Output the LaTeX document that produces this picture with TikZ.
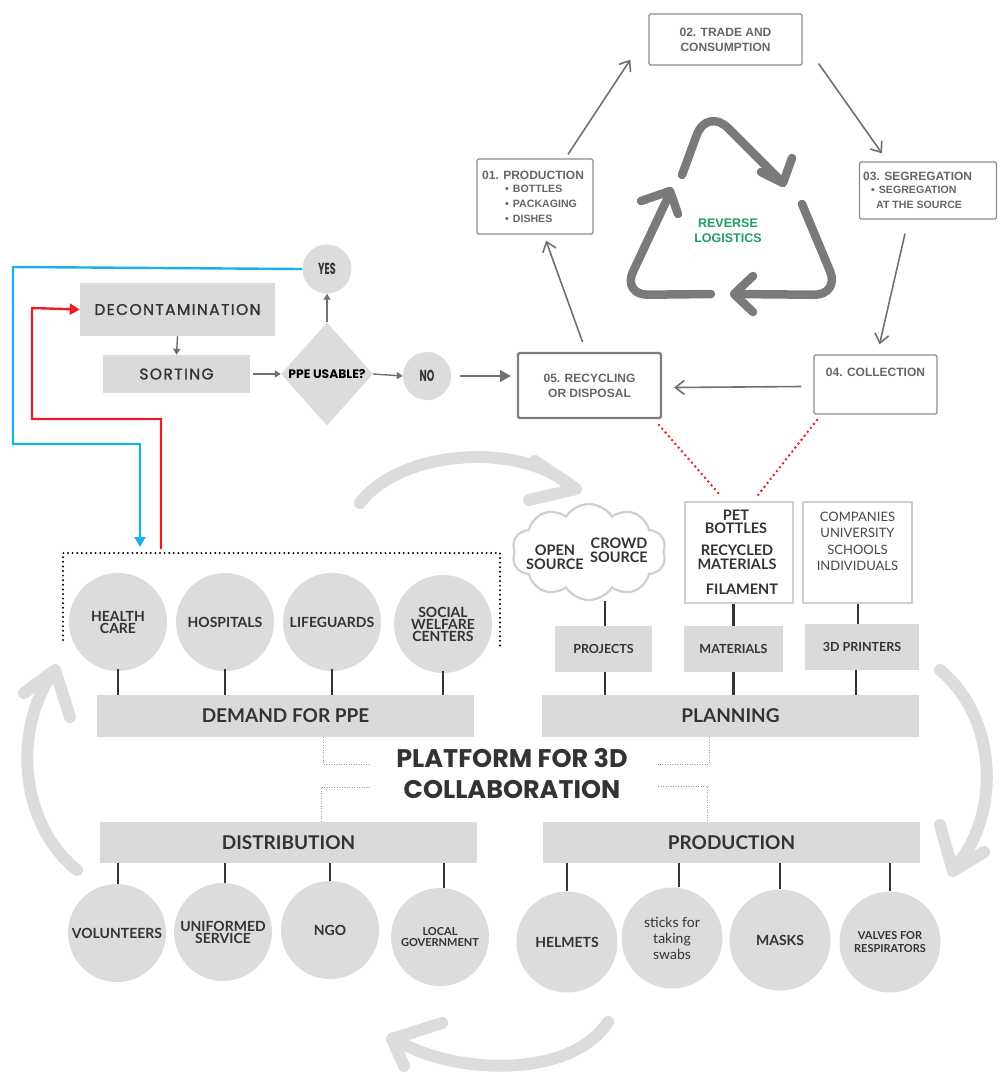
\documentclass[tikz,border=0pt]{standalone}
\usepackage{fontspec}
\setmainfont{Lato}
\newfontfamily\ari{Liberation Sans}
\newfontfamily\pop{Poppins}
\newfontfamily\popsp{Poppins}[LetterSpace=9,FakeBold=1.3]
\usetikzlibrary{shapes.geometric,shapes.symbols,arrows.meta}
\definecolor{cgray}{HTML}{DCDCDC}
\definecolor{bgray}{HTML}{DADADA}
\definecolor{tdark}{HTML}{333333}
\definecolor{agray}{HTML}{707070}
\definecolor{rgray}{HTML}{7A7A7A}
\definecolor{lgray}{HTML}{DCDCDC}
\definecolor{cyctext}{HTML}{666666}
\definecolor{boxline}{HTML}{8C8C8C}
\definecolor{cyanl}{HTML}{1CB1E6}
\definecolor{redl}{HTML}{EC1C24}
\definecolor{greenl}{HTML}{1E9E5E}
\definecolor{outl}{HTML}{CFCFCF}
\definecolor{dotg}{HTML}{9A9A9A}
\newcommand\smf{\fontsize{10.6}{15.5}\selectfont}
\begin{document}
\begin{tikzpicture}[x=1pt,y=-1pt,
  cyc/.style={draw=boxline,line width=1.3,rounded corners=1.5,inner sep=0,align=center,text=cyctext,font=\ari\bfseries\fontsize{12}{15}\selectfont},
  cyctxt/.style={inner sep=0,align=left,text=cyctext,font=\ari\bfseries\fontsize{12}{15}\selectfont},
  circ/.style={circle,fill=cgray,inner sep=0,minimum size=#1,align=center,text=tdark,font=\bfseries\fontsize{14}{14}\selectfont},
  circ/.default=98,
  bar/.style={fill=bgray,inner sep=0,minimum height=42,minimum width=377,text=tdark,font=\bfseries\fontsize{19}{20}\selectfont},
  sbox/.style={fill=bgray,inner sep=0,text=tdark,font=\bfseries\fontsize{12.5}{14}\selectfont},
  obox/.style={draw=outl,line width=2,fill=white,inner sep=0,align=center,text=tdark},
  otext/.style={text=tdark,font=\bfseries\fontsize{14.5}{13.5}\selectfont,align=center},
  flow/.style={fill=bgray,inner sep=0,text=tdark,font=\popsp\fontsize{15.5}{17}\selectfont},
  farr/.style={draw=agray,line width=1.4,-{Triangle[length=6,width=7]}},
  carr/.style={draw=agray,line width=1.6,-{Straight Barb[length=9,width=14]}},
  recy/.style={draw=rgray,line width=8.5,line cap=round,line join=round},
  big/.style={draw=lgray,line width=12,line cap=round,line join=round},
  vline/.style={draw=tdark,line width=2.6},
  gdot/.style={draw=dotg,line width=1,dash pattern=on 1pt off 1.5pt},
]
\useasboundingbox (0,0) rectangle (1000,1072);

% ---------------- reverse logistics cycle ----------------
\node[cyc,minimum width=153,minimum height=51] (trade) at (725.5,39.5) {02. TRADE AND\\CONSUMPTION};
\node[cyc,minimum width=116,minimum height=75] (prod1) at (535,196.5) {};
\node[cyctxt,anchor=west] (prod1t) at (482,196.5)
 {01. PRODUCTION\\[-2pt]\smf\hspace*{23pt}•\hspace{4pt}BOTTLES\\\smf\hspace*{23pt}•\hspace{4pt}PACKAGING\\\smf\hspace*{23pt}•\hspace{4pt}DISHES};
\node[cyc,minimum width=137,minimum height=57] (seg) at (928,190.5) {};
\node[cyctxt,anchor=west] (segt) at (863,190.5)
 {03. SEGREGATION\\[-2pt]\smf\hspace*{8pt}•\hspace{4pt}SEGREGATION\\\smf\hspace*{13pt}AT THE SOURCE};
\node[cyc,minimum width=123,minimum height=59] (coll) at (875.5,384.5) {04. COLLECTION\\[10pt]\mbox{}};
\node[cyc,draw=agray!90,line width=2.2,minimum width=143,minimum height=65] (recyc) at (589.5,385.5) {05. RECYCLING\\OR DISPOSAL};

\path (prod1.north) ++(33,-4) coordinate (p1a);
\path (trade.south west) ++(-18,-6) coordinate (p1b);
\draw[carr] (p1a) -- (p1b);
\path (trade.south east) ++(16,-2) coordinate (t1);
\path (seg.north) ++(-46,-8) coordinate (t2);
\draw[carr] (t1) -- (t2);
\path (seg.south) ++(-23,14) coordinate (s1);
\path (coll.north) ++(4,-10) coordinate (s2);
\draw[carr] (s1) -- (s2);
\path (coll.west) ++(-12,2) coordinate (c1);
\path (recyc.east) ++(12,2) coordinate (c2);
\draw[carr] (c1) -- (c2);
\path (recyc.north) ++(-7,-10) coordinate (r1);
\path (prod1.south) ++(11,6) coordinate (r2);
\draw[carr] (r1) -- (r2);

% recycling symbol
\draw[recy,rounded corners=30] (682,175) -- (707,107) -- (781,181);
\draw[recy] (761,172) -- (783,183) -- (792,158);
\draw[recy,rounded corners=26] (802,204) -- (840,295) -- (736,294);
\draw[recy] (753,276) -- (734,294) -- (753,312);
\draw[recy,rounded corners=26] (711,294) -- (622,295) -- (670,193);
\draw[recy] (641,201) -- (670,191) -- (678,214);
\node[text=greenl,font=\ari\bfseries\fontsize{12.5}{15}\selectfont,align=center] (rl) at (728,231) {REVERSE\\LOGISTICS};

% ---------------- PPE flow ----------------
\node[flow,minimum width=195,minimum height=53] (decon) at (177.5,309.5) {DECONTAMINATION};
\node[flow,minimum width=147,minimum height=38] (sort) at (176.5,374) {SORTING};
\node[diamond,fill=cgray,inner sep=0,minimum width=92,minimum height=103] (ppe) at (327,374) {};
\node[text=black,font=\pop\bfseries\fontsize{12.3}{13}\selectfont] (ppel) at (ppe.center) {PPE USABLE?};
\node[circle,fill=cgray,minimum size=49,inner sep=0,text=tdark,font=\pop\bfseries\fontsize{16}{16}\selectfont] (yes) at (327,269) {\scalebox{0.6}[1]{YES}};
\node[circle,fill=cgray,minimum size=48,inner sep=0,text=tdark,font=\pop\bfseries\fontsize{16}{16}\selectfont] (no) at (427,376) {\scalebox{0.6}[1]{NO}};

\path (sort.east) ++(3,0) coordinate (se);
\draw[farr] (decon.south) -- (sort.north);
\draw[farr] (se) -- (ppe.west);
\draw[farr] (ppe.north) -- (yes.south);
\draw[farr] (ppe.east) -- (no.west);
\path (no.east) ++(9,0) coordinate (ne);
\path (recyc.west |- ne) ++(-6,0) coordinate (ne2);
\draw[draw=agray,line width=1.6,-{Triangle[length=11,width=12]}] (ne) -- (ne2);

% dotted frame
\coordinate (fa) at (63,640);
\coordinate (fb) at (63,553);
\coordinate (fc) at (500,553);
\coordinate (fd) at (500,646);
\draw[black,line width=2.2,dash pattern=on 0pt off 4.6pt,line cap=round] (fa) -- (fb) -- (fc) -- (fd);

% cyan / red connectors
\coordinate (bend) at (140,547);
\coordinate (rstart) at (161,549);
\draw[cyanl,line width=2.4,-{Triangle[length=10,width=11]}] (yes.west) -- (13,267) -- (13,444) -- (140,444) -- (bend);
\draw[redl,line width=2.4,-{Triangle[length=10,width=11]}] (rstart) -- (161,419) -- (32,419) -- (32,308) -- (decon.west);

% ---------------- demand ----------------
\node[bar] (demand) at (285.5,716) {DEMAND FOR PPE};
\node[circ] (hc) at (118,622) {HEALTH\\[-2pt]CARE};
\node[circ] (hosp) at (225,622) {HOSPITALS};
\node[circ] (life) at (332,622) {LIFEGUARDS};
\node[circ] (soc) at (443,624) {SOCIAL\\[-2pt]WELFARE\\[-2pt]CENTERS};
\foreach \n in {hc,hosp,life,soc}{\path (\n.south) ++(0,-2) coordinate (tmp); \draw[vline] (tmp) -- (tmp |- demand.north);}

% ---------------- planning ----------------
\node[bar] (plan) at (730.5,716) {PLANNING};
\node[sbox,minimum width=97,minimum height=46] (proj) at (603.5,649) {PROJECTS};
\node[sbox,minimum width=99,minimum height=46] (mat) at (733.5,649) {MATERIALS};
\node[sbox,minimum width=114,minimum height=46] (printers) at (862,647) {3D PRINTERS};
\node[cloud,cloud puffs=10,cloud puff arc=115,aspect=1.7,draw=outl,line width=2.2,fill=white,minimum width=154,minimum height=96,inner sep=0] (cloud) at (589,552) {};
\node[otext] (open) at (555,557) {OPEN\\SOURCE};
\node[otext] (crowd) at (619,550) {CROWD\\SOURCE};
\node[obox,minimum width=108,minimum height=101] (pet) at (739,552.5) {};
\node[otext] (petl) at (736,522) {PET\\BOTTLES};
\node[otext] (recm) at (737,557) {RECYCLED\\MATERIALS};
\node[otext] (fil) at (742,589) {FILAMENT};
\node[obox,minimum width=109,minimum height=101,font=\fontsize{13}{16.6}\selectfont,text=tdark!90] (comp) at (857.5,552.5) {COMPANIES\\UNIVERSITY\\SCHOOLS\\INDIVIDUALS\\[6pt]\mbox{}};

\path (proj.north) ++(1.5,0) coordinate (pj);
\path (printers.north) ++(-4,0) coordinate (pr);
\path (proj.south) ++(1.5,0) coordinate (pjs);
\path (printers.south) ++(-6,0) coordinate (prs);
\draw[vline] (pj) -- (pj |- cloud.south);
\draw[vline] (mat.north) -- (mat.north |- pet.south);
\draw[vline] (pr) -- (pr |- comp.south);
\draw[vline] (pjs) -- (pjs |- plan.north);
\draw[vline] (mat.south) -- (mat.south |- plan.north);
\draw[vline] (prs) -- (prs |- plan.north);

% red dotted links
\coordinate (rd1) at (659,425);
\coordinate (rd2) at (720,495);
\coordinate (rd3) at (817,420);
\coordinate (rd4) at (758,495);
\draw[redl,line width=2.8,dash pattern=on 0pt off 5pt,line cap=round] (rd1) -- (rd2);
\draw[redl,line width=2.8,dash pattern=on 0pt off 5pt,line cap=round] (rd3) -- (rd4);

% ---------------- platform ----------------
\node[text=tdark,font=\pop\bfseries\fontsize{25.5}{31}\selectfont,align=center] (plat) at (512,774) {PLATFORM FOR 3D\\COLLABORATION};
\node[bar,minimum height=41] (dist) at (288.5,842.5) {DISTRIBUTION};
\node[bar,minimum height=41] (prod) at (731.5,842.5) {PRODUCTION};
\coordinate (g1) at (323,764);
\coordinate (g2) at (370,764);
\coordinate (g3) at (709,764);
\coordinate (g4) at (658,764);
\coordinate (g5) at (370,787);
\coordinate (g6) at (321,787);
\coordinate (g7) at (658,786);
\coordinate (g8) at (707,786);
\draw[gdot] (demand.south -| g1) -- (g1) -- (g2);
\draw[gdot] (plan.south -| g3) -- (g3) -- (g4);
\draw[gdot] (g5) -- (g6) -- (dist.north -| g6);
\draw[gdot] (g7) -- (g8) -- (prod.north -| g8);

% ---------------- distribution ----------------
\node[circ] (vol) at (117,933) {VOLUNTEERS};
\node[circ] (uni) at (223,932) {UNIFORMED\\[-2pt]SERVICE};
\node[circ] (ngo) at (330,930) {NGO};
\node[circ,font=\bfseries\fontsize{11}{11.5}\selectfont] (loc) at (440,937) {LOCAL\\GOVERNMENT};
\coordinate (x118) at (118,0);
\coordinate (x225) at (225,0);
\coordinate (x444) at (444,0);
\coordinate (x679) at (679,0);
\draw[vline] (dist.south -| x118) -- (vol.north -| x118);
\draw[vline] (dist.south -| x225) -- (uni.north -| x225);
\draw[vline] (dist.south -| ngo.north) -- (ngo.north);
\draw[vline] (dist.south -| x444) -- (loc.north -| x444);

% ---------------- production ----------------
\node[circ=101] (helm) at (567,942) {HELMETS};
\node[circ=101,font=\fontsize{14}{16}\selectfont] (stick) at (672,938) {sticks for\\taking\\swabs};
\node[circ=101] (mask) at (780,940) {MASKS};
\node[circ=101,font=\bfseries\fontsize{11}{12.5}\selectfont] (valv) at (890,942) {VALVES FOR\\RESPIRATORS};
\draw[vline] (prod.south -| helm.north) -- (helm.north);
\draw[vline] (prod.south -| x679) -- (stick.north -| x679);
\draw[vline] (prod.south -| mask.north) -- (mask.north);
\draw[vline] (prod.south -| valv.north) -- (valv.north);

% ---------------- big light cycle arrows ----------------
\draw[big] (360,503) .. controls (400,450) and (520,440) .. (574,488);
\draw[big] (535,461) -- (576,489) -- (529,500);
\draw[big] (940,670) .. controls (1000,720) and (1000,820) .. (953,869);
\draw[big] (940,825) -- (953,871) -- (984,852);
\draw[big] (608,1022) .. controls (570,1080) and (450,1075) .. (393,1038);
\draw[big] (442,1023) -- (392,1039) -- (404,1066);
\draw[big] (77,870) .. controls (15,820) and (15,720) .. (55,671);
\draw[big] (24,693) -- (55,670) -- (70,717);
\end{tikzpicture}
\end{document}
